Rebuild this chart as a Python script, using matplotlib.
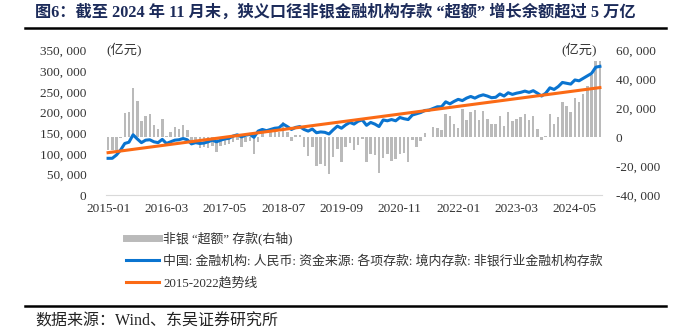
import numpy as np
import matplotlib.pyplot as plt
from matplotlib.lines import Line2D
from matplotlib.ticker import FuncFormatter

plt.rcParams['font.family'] = ['Liberation Serif', 'Noto Sans CJK SC']
plt.rcParams['axes.unicode_minus'] = False

# monthly data, 2015-01 .. 2024-11
months = [f"{y}-{m:02d}" for y in range(2015, 2025) for m in range(1, 13)][:119]

# non-bank "excess" deposits (right axis, 亿元)
excess = [
    -9000, -9000, -9000, -500, 17100, 17500, 34200, 25000, 11500, 14800, 15900, 8800,
    5500, 12500, 1000, 3700, 7200, 5800, 8300, 5300, -3200, -4400, -7200, -7000,
    -7500, -6000, -10200, -6200, -5500, -4800, -3000, -2000, -6700, -3200, -2500, -11300,
    -3000, 3000, 500, 3700, 3700, 3700, 10600, 3700, -2500, 1500, 1800, -6700,
    -12800, -7000, -20000, -18700, -19600, -25700, -13500, -7800, -17100, -6700, -3900, -9000,
    -5500, -1400, -17100, -11300, -12500, -24700, -14300, -11300, -16600, -14800, -11300, -11000,
    -16800, -2100, -6700, -2800, 3200, 500, 7200, 6700, 4900, 15900, 14600, 9500,
    6700, 19400, 11800, 17300, 18700, 11800, 18500, 12900, 9000, 9500, 14600, 7500,
    17600, 11100, 12500, 14100, 16400, 11800, 14600, 5500, -2100, 1200, 15900, 9200,
    14100, 24500, 21500, 17300, 27300, 24300, 30300, 35600, 43000, 52700, 52900,
]

# non-bank financial institution deposits (left axis, 亿元)
deposits = [
    89000, 89000, 97000, 109000, 125000, 128000, 146000, 136000, 127000, 133000, 134000, 129000,
    127000, 135000, 125000, 129000, 133000, 134000, 137000, 134000, 124000, 127000, 125000, 126000,
    129000, 133000, 129000, 133000, 136000, 137500, 143000, 146000, 141000, 145000, 147000, 140000,
    155000, 159000, 156000, 159000, 162000, 163000, 172000, 166000, 159000, 164000, 166000, 159000,
    155000, 160000, 151000, 153000, 152000, 148000, 158000, 167000, 162000, 170000, 176000, 172000,
    179000, 182000, 169000, 176000, 172000, 166000, 182000, 180000, 183000, 180000, 188000, 185000,
    183000, 194000, 197000, 200000, 205000, 206000, 210000, 214000, 214000, 226000, 221000, 227000,
    232000, 229000, 235000, 239000, 235000, 240000, 243000, 240000, 236000, 237000, 245000, 240000,
    248000, 244000, 247000, 249000, 252000, 249000, 253000, 247000, 240000, 247000, 260000, 256000,
    263000, 273000, 271000, 269000, 279000, 277000, 283000, 289000, 295000, 310000, 312000,
]

# 2015-2022 trend line end points
trend_x = [0, 118]
trend_y = [102700, 260500]

tick_idx = list(range(0, 119, 14))
tick_labels = [months[i] for i in tick_idx]

x = np.arange(len(months))

fig = plt.figure(figsize=(6.78, 3.33), dpi=100)
ax = fig.add_axes([106/678, 138/333, 496/678, 144.3/333])
ax2 = ax.twinx()

ax2.bar(x, excess, width=0.6, color='#bababa')
ax.plot(x, deposits, color='#0a74d0', lw=2.2)
ax.plot(trend_x, trend_y, color='#fb6a15', lw=2.2)

ax.set_zorder(ax2.get_zorder() + 1)
ax.patch.set_visible(False)

ax.set_xlim(-0.5, 118.5)
ax.set_ylim(0, 350000)
ax2.set_ylim(-40000, 60000)
ax.set_yticks(range(0, 350001, 50000))
ax2.set_yticks(range(-40000, 60001, 20000))

fmt = FuncFormatter(lambda v, p: f"{v:,.0f}".replace(",", ", "))
ax.yaxis.set_major_formatter(fmt)
ax2.yaxis.set_major_formatter(fmt)

ax.set_xticks(tick_idx)
ax.set_xticklabels(tick_labels)

for a in (ax, ax2):
    for s in a.spines.values():
        s.set_visible(False)
    a.tick_params(length=0, labelsize=9.5, colors='#333333')
ax.spines['bottom'].set_visible(True)
ax.spines['bottom'].set_color('#d9d9d9')
ax.tick_params(axis='y', pad=14)
ax2.tick_params(axis='y', pad=10)
ax.tick_params(axis='x', pad=6)

ax.text(0.0, 1.0, '(亿元)', transform=ax.transAxes, fontsize=9.5,
        color='#333333', ha='left', va='center')
ax.text(0.99, 1.0, '(亿元)', transform=ax.transAxes, fontsize=9.5,
        color='#333333', ha='right', va='center')

handles = [
    Line2D([], [], color='#bababa', lw=5),
    Line2D([], [], color='#0a74d0', lw=2.2),
    Line2D([], [], color='#fb6a15', lw=2.2),
]
labels = [
    '非银 “超额” 存款(右轴)',
    '中国: 金融机构: 人民币: 资金来源: 各项存款: 境内存款: 非银行业金融机构存款',
    '2015-2022趋势线',
]
fig.legend(handles, labels, loc='upper left', bbox_to_anchor=(114/678, 1 - 220/333),
           frameon=False, fontsize=9.3, handlelength=2.6, handletextpad=0.3,
           labelspacing=0.75, labelcolor='#333333')

fig.text(35/678, 1 - 13/333,
         '图6：截至 2024 年 11 月末，狭义口径非银金融机构存款 “超额” 增长余额超过 5 万亿',
         fontsize=11.7, fontweight='bold', color='#1c2b5a', ha='left', va='center')
fig.add_artist(Line2D([25/678, 666/678], [1 - 28/333, 1 - 28/333], color='black', lw=1.8))
fig.add_artist(Line2D([25/678, 666/678], [1 - 306/333, 1 - 306/333], color='black', lw=1.8))
fig.text(35/678, 1 - 322/333, '数据来源：Wind、东吴证券研究所', fontsize=11.5,
         color='#222222', ha='left', va='center')

fig.savefig('out.png', dpi=100)
